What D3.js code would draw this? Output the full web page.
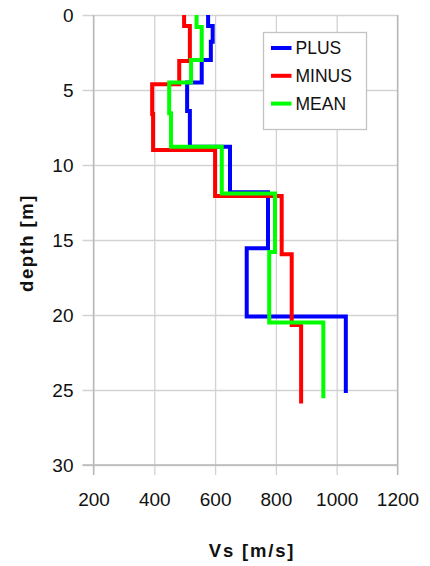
<!DOCTYPE html>
<html lang="en">
<head>
  <meta charset="UTF-8">
  <title>Vs profile</title>
  <script src="https://d3js.org/d3.v7.min.js"></script>
  <style>
    body { margin: 0; background: #fff; }
    text { font-family: "Liberation Sans", Arial, sans-serif; fill: #111; }
  </style>
</head>
<body>
  <div id="chart"></div>
  <script>
    // layer boundaries (depth, m) and Vs (m/s) of each layer
    const plusDepths  = [0, 0.73, 1.78, 3.0, 4.5, 6.4, 8.78, 11.82, 15.55, 20.1, 25.2];
    const plusVs      = [577, 592, 586, 556, 508, 517, 649, 774, 704, 1030];
    const minusDepths = [0, 0.73, 3.07, 4.62, 6.6, 9.0, 12.07, 15.95, 20.67, 25.9];
    const minusVs     = [498, 517, 482, 393, 396, 600, 819, 852, 883];
    const meanDepths  = [0, 0.8, 3.0, 4.5, 6.55, 8.78, 11.9, 15.8, 20.5, 25.55];
    const meanVs      = [539, 556, 521, 449, 455, 622, 797, 778, 956];

    const xTicks = [200, 400, 600, 800, 1000, 1200];
    const yTicks = [0, 5, 10, 15, 20, 25, 30];

    const series = [
      { name: 'PLUS',  depths: plusDepths,  vs: plusVs,  color: '#0000ff' },
      { name: 'MINUS', depths: minusDepths, vs: minusVs, color: '#ff0000' },
      { name: 'MEAN',  depths: meanDepths,  vs: meanVs,  color: '#00ff00' }
    ];

    const width = 430, height = 566;
    const plot = { left: 93.5, right: 397.5, top: 15, bottom: 465 };

    const x = d3.scaleLinear().domain([200, 1200]).range([plot.left, plot.right]);
    const y = d3.scaleLinear().domain([0, 30]).range([plot.top, plot.bottom]);

    const svg = d3.select('#chart').append('svg')
      .attr('width', width)
      .attr('height', height);

    // y axis with gridlines
    const yAxis = svg.append('g')
      .attr('transform', `translate(${plot.left},0)`)
      .call(d3.axisLeft(y).tickValues(yTicks).tickFormat(d3.format('d'))
        .tickSizeInner(-(plot.right - plot.left)).tickSizeOuter(0).tickPadding(20));
    yAxis.select('.domain').remove();
    yAxis.selectAll('line').attr('x1', -11).attr('stroke', '#d2d2d2').attr('stroke-width', 1.3);
    yAxis.selectAll('text').attr('font-size', 19).attr('fill', '#111');

    // x axis with gridlines
    const xAxis = svg.append('g')
      .attr('transform', `translate(0,${plot.bottom})`)
      .call(d3.axisBottom(x).tickValues(xTicks).tickFormat(d3.format('d'))
        .tickSizeInner(-(plot.bottom - plot.top)).tickSizeOuter(0).tickPadding(28));
    xAxis.select('.domain').remove();
    xAxis.selectAll('line').attr('y1', 10).attr('stroke', '#d2d2d2').attr('stroke-width', 1.3);
    xAxis.selectAll('text').attr('font-size', 19).attr('fill', '#111');

    // plot border
    svg.append('line').attr('x1', plot.left).attr('x2', plot.left).attr('y1', plot.top).attr('y2', plot.bottom + 10)
      .attr('stroke', '#b8b8b8').attr('stroke-width', 1.3);
    svg.append('line').attr('x1', plot.right).attr('x2', plot.right).attr('y1', plot.top).attr('y2', plot.bottom + 10)
      .attr('stroke', '#b8b8b8').attr('stroke-width', 1.3);
    svg.append('line').attr('x1', plot.left - 11).attr('x2', plot.right).attr('y1', plot.bottom).attr('y2', plot.bottom)
      .attr('stroke', '#b8b8b8').attr('stroke-width', 1.3);

    // step profiles
    const line = d3.line().x(d => x(d[0])).y(d => y(d[1]));
    series.forEach(s => {
      const pts = [];
      s.vs.forEach((v, i) => {
        pts.push([v, s.depths[i]]);
        pts.push([v, s.depths[i + 1]]);
      });
      svg.append('path')
        .datum(pts)
        .attr('d', line)
        .attr('fill', 'none')
        .attr('stroke', s.color)
        .attr('stroke-width', 4)
        .attr('stroke-linejoin', 'miter');
    });

    // legend
    const legend = svg.append('g').attr('transform', 'translate(263.5,32.5)');
    legend.append('rect')
      .attr('width', 103).attr('height', 97)
      .attr('fill', '#fff').attr('stroke', '#c4c4c4').attr('stroke-width', 1.3);
    series.forEach((s, i) => {
      const ly = 15.5 + i * 27.8;
      legend.append('line')
        .attr('x1', 7.5).attr('x2', 28).attr('y1', ly).attr('y2', ly)
        .attr('stroke', s.color).attr('stroke-width', 4);
      legend.append('text')
        .attr('x', 32).attr('y', ly).attr('dy', '0.36em')
        .attr('font-size', 17.5)
        .text(s.name);
    });

    // axis titles
    svg.append('text')
      .attr('x', 252).attr('y', 557)
      .attr('text-anchor', 'middle')
      .attr('font-size', 18.5)
      .attr('font-weight', 'bold')
      .attr('letter-spacing', 1.8)
      .text('Vs [m/s]');

    svg.append('text')
      .attr('transform', 'translate(33,243) rotate(-90)')
      .attr('text-anchor', 'middle')
      .attr('font-size', 18.5)
      .attr('font-weight', 'bold')
      .attr('letter-spacing', 1.5)
      .text('depth [m]');
  </script>
</body>
</html>
